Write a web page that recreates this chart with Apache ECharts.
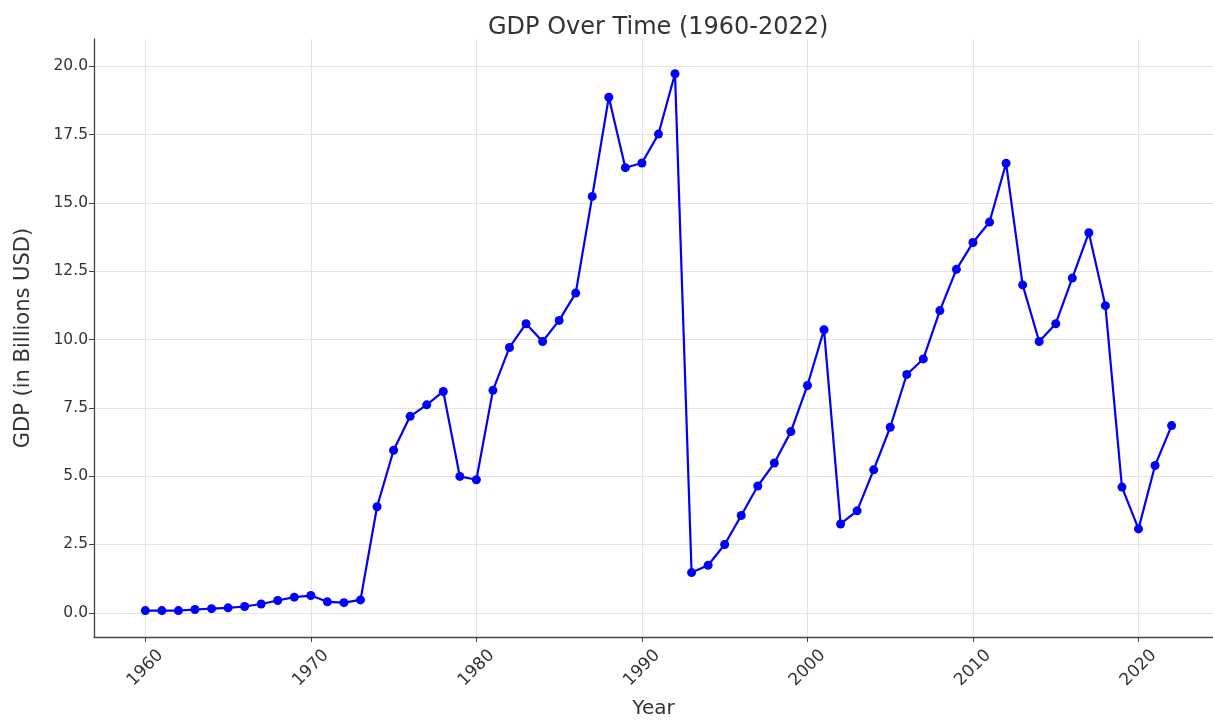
<!DOCTYPE html>
<html>
<head>
<meta charset="utf-8">
<script src="https://cdn.jsdelivr.net/npm/echarts@6/dist/echarts.min.js"></script>
<style>
  html, body { margin: 0; padding: 0; background: #fff; }
  #chart { width: 1213px; height: 724px; }
</style>
</head>
<body>
<div id="chart"></div>
<script>
const years = [1960,1961,1962,1963,1964,1965,1966,1967,1968,1969,
  1970,1971,1972,1973,1974,1975,1976,1977,1978,1979,
  1980,1981,1982,1983,1984,1985,1986,1987,1988,1989,
  1990,1991,1992,1993,1994,1995,1996,1997,1998,1999,
  2000,2001,2002,2003,2004,2005,2006,2007,2008,2009,
  2010,2011,2012,2013,2014,2015,2016,2017,2018,2019,
  2020,2021,2022];
const gdp = [0.08,0.08,0.08,0.12,0.15,0.18,0.23,0.32,0.45,0.57,
  0.63,0.40,0.37,0.47,3.88,5.95,7.19,7.61,8.10,4.99,
  4.87,8.14,9.71,10.58,9.93,10.70,11.70,15.24,18.87,16.29,
  16.46,17.52,19.73,1.47,1.74,2.50,3.56,4.64,5.48,6.63,
  8.32,10.36,3.25,3.73,5.23,6.79,8.72,9.29,11.06,12.57,
  13.55,14.30,16.45,12.00,9.93,10.58,12.25,13.91,11.24,4.60,
  3.07,5.39,6.85];
const xTicks = [1960,1970,1980,1990,2000,2010,2020];
const yTicks = [0,2.5,5,7.5,10,12.5,15,17.5,20];
const titleText = 'GDP Over Time (1960-2022)';
const xName = 'Year';
const yName = 'GDP (in Billions USD)';

const font = 'DejaVu Sans';
const chart = echarts.init(document.getElementById('chart'), null, { renderer: 'canvas' });
chart.setOption({
  backgroundColor: '#ffffff',
  animation: false,
  title: {
    text: titleText,
    left: 488,
    top: 16,
    padding: 0,
    textStyle: { fontFamily: font, fontSize: 24, fontWeight: 'normal', color: '#333' }
  },
  grid: { left: 94, right: 0, top: 39, bottom: 80, containLabel: false },
  xAxis: {
    type: 'value',
    min: 1956.9,
    max: 2024.5,
    name: xName,
    nameLocation: 'middle',
    nameGap: 62,
    nameTextStyle: { fontFamily: font, fontSize: 20, color: '#333' },
    axisLine: { show: true, onZero: false, lineStyle: { color: '#444', width: 1.3 } },
    axisTick: { show: true, length: 5, customValues: xTicks, lineStyle: { color: '#444' } },
    axisLabel: {
      customValues: xTicks,
      rotate: 45,
      align: 'center',
      verticalAlign: 'middle',
      margin: 31,
      fontFamily: font, fontSize: 17, color: '#333',
      formatter: v => String(v)
    },
    splitLine: { show: true, lineStyle: { color: '#e3e3e3', width: 1 } }
  },
  yAxis: {
    type: 'value',
    min: -0.887,
    max: 21.0,
    name: yName,
    nameLocation: 'middle',
    nameGap: 60,
    nameTextStyle: { fontFamily: font, fontSize: 21, color: '#333' },
    axisLine: { show: true, onZero: false, lineStyle: { color: '#444', width: 1.3 } },
    axisTick: { show: true, length: 5, customValues: yTicks, lineStyle: { color: '#444' } },
    axisLabel: {
      customValues: yTicks,
      margin: 6,
      fontFamily: font, fontSize: 15.5, color: '#333',
      formatter: v => v.toFixed(1)
    },
    splitLine: { show: true, lineStyle: { color: '#e3e3e3', width: 1 } }
  },
  series: [{
    type: 'line',
    data: years.map((y, i) => [y, gdp[i]]),
    symbol: 'circle',
    symbolSize: 9,
    showSymbol: true,
    itemStyle: { color: '#0000ff' },
    lineStyle: { color: '#0000ff', width: 2.2 }
  }]
});
</script>
</body>
</html>
